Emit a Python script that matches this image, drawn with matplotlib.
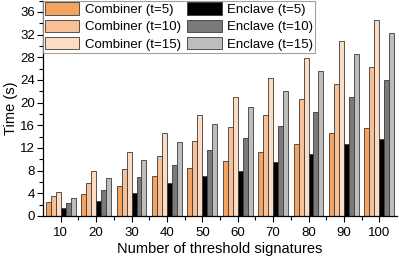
import numpy as np
import matplotlib
matplotlib.use("Agg")
import matplotlib.pyplot as plt
from matplotlib.ticker import MultipleLocator

plt.rcParams['font.family'] = ['Liberation Sans', 'DejaVu Sans']

# Daten
n_sig = np.array([10, 20, 30, 40, 50, 60, 70, 80, 90, 100])
comb_t5 = [2.4, 3.8, 5.3, 7.05, 8.4, 9.7, 11.2, 12.6, 14.6, 15.5]
comb_t10 = [3.5, 5.8, 8.3, 10.5, 13.3, 15.6, 17.8, 20.6, 23.2, 26.2]
comb_t15 = [4.2, 7.9, 11.2, 14.6, 17.8, 20.9, 24.3, 27.9, 30.9, 34.6]
encl_t5 = [1.45, 2.65, 4.0, 5.8, 7.05, 8.0, 9.5, 10.9, 12.7, 13.5]
encl_t10 = [2.35, 4.6, 6.9, 9.0, 11.6, 13.7, 15.9, 18.4, 20.9, 23.9]
encl_t15 = [3.1, 6.65, 9.9, 13.1, 16.2, 19.2, 22.1, 25.6, 28.6, 32.2]

serien = [
    ("Combiner (t=5)", comb_t5, "#F4A462"),
    ("Combiner (t=10)", comb_t10, "#F8C097"),
    ("Combiner (t=15)", comb_t15, "#FCDCC3"),
    ("Enclave (t=5)", encl_t5, "#000000"),
    ("Enclave (t=10)", encl_t10, "#7A7A7A"),
    ("Enclave (t=15)", encl_t15, "#BDBDBD"),
]

fig = plt.figure(figsize=(3.99, 2.57), dpi=100)
ax = fig.add_axes([0.108, 0.16, 0.887, 0.838])

w = 1.4
for i, (name, vals, col) in enumerate(serien):
    ax.bar(n_sig + (i - 2.5) * w, vals, width=w, color=col,
           edgecolor="#3a3a3a", linewidth=0.6, label=name)

ax.set_xlim(5, 105)
ax.set_ylim(0, 38)
ax.set_xticks(n_sig)
ax.set_xticks(n_sig[:-1] + 5, minor=True)
ax.yaxis.set_major_locator(MultipleLocator(4))
ax.yaxis.set_minor_locator(MultipleLocator(2))
ax.tick_params(axis='both', which='both', direction='out', labelsize=9.5,
               width=0.8)
ax.tick_params(axis='x', pad=4)
ax.tick_params(axis='y', pad=2)
ax.tick_params(which='major', length=4)
ax.tick_params(which='minor', length=3)

for s in ['top', 'right']:
    ax.spines[s].set_visible(False)
for s in ['left', 'bottom']:
    ax.spines[s].set_linewidth(0.9)

ax.set_xlabel("Number of threshold signatures", fontsize=10.5, labelpad=2)
ax.set_ylabel("Time (s)", fontsize=10.5, labelpad=1)

leg = ax.legend(ncol=2, loc='upper left', bbox_to_anchor=(0.0, 1.0),
                fontsize=9.5, frameon=True, fancybox=False,
                handlelength=2.6, handleheight=1.1, handletextpad=0.4,
                columnspacing=0.5, labelspacing=0.25, borderpad=0.15,
                borderaxespad=0.0)
leg.get_frame().set_edgecolor("#888888")
leg.get_frame().set_linewidth(0.8)

plt.savefig("out.png", dpi=100)
